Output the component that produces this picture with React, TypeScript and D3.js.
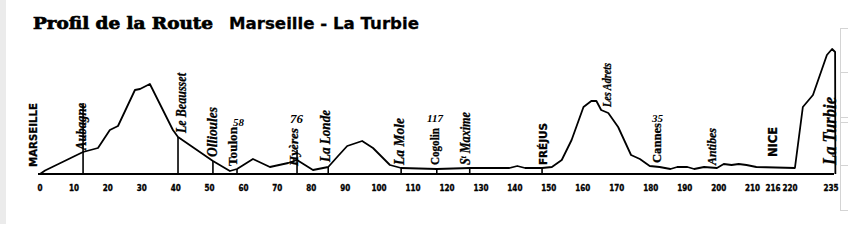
import React from 'react';
import * as d3 from 'd3';

// ---------- DATA ----------
const profileKm = [0, 1.5, 12.7, 17.1, 20.6, 23, 28, 29.5, 32.4, 39.2, 40.7, 51, 56, 58.1, 62.8, 67.8, 73.2, 75.8, 80.5, 85, 87.9, 90.6, 95, 98.2, 103.2, 106.5, 117, 126.7, 138.4, 140.7, 143, 148, 150.9, 153.8, 156.7, 160.2, 162.5, 164, 165.4, 167.5, 170.4, 174.2, 176.8, 179.7, 182.6, 185.8, 187.8, 190.8, 192.8, 195.7, 199.5, 201.5, 203.8, 205.9, 208.2, 211.1, 221.8, 224.7, 228.4, 233.5, 235.4, 236.5, 236.6];
const profileElev = [0, 14, 88, 104, 176, 192, 336, 340, 360, 176, 148, 52, 12, 20, 60, 28, 44, 56, 16, 28, 72, 112, 132, 104, 36, 24, 20, 24, 24, 32, 24, 24, 28, 56, 136, 268, 292, 292, 256, 244, 188, 76, 60, 32, 28, 20, 28, 28, 20, 28, 24, 40, 36, 40, 36, 28, 24, 268, 316, 476, 500, 488, 0];

const tickValues = [0, 10, 20, 30, 40, 50, 60, 70, 80, 90, 100, 110, 120, 130, 140, 150, 160, 170, 180, 190, 200, 210, 216, 220, 235];

const townNames = ['Aubagne', 'Le Beausset', 'Ollioules', 'Toulon', 'Hyères', 'La Londe', 'La Mole', 'Cogolin', 'St Maxime', 'FRÉJUS'];
const townKm = [12.7, 40.7, 51, 58.1, 75.8, 85, 106.5, 117, 126.7, 148];
const townMarkerTopElev = [284, null, null, null, 96, null, null, null, null, null];

const titleLeft = 'Profil de la Route';
const titleRight = 'Marseille - La Turbie';

// ---------- LAYOUT ----------
const W = 848, H = 249;
const HAND = "'Liberation Serif', 'DejaVu Serif', serif";
const SANS = "'DejaVu Sans', 'Liberation Sans', sans-serif";
const COND = "'DejaVu Sans Condensed', 'Liberation Sans Narrow', 'DejaVu Sans', sans-serif";

const labelLayout = [
  { text: 'MARSEILLE', cx: 33, yb: 167, len: 64, family: SANS, size: 10, weight: 700, style: 'normal' },
  { text: 'Aubagne', cx: 81, yb: 150, len: 47, family: HAND, size: 14, weight: 700, style: 'italic' },
  { text: 'Le Beausset', cx: 181, yb: 133, len: 60, family: HAND, size: 14, weight: 700, style: 'italic' },
  { text: 'Ollioules', cx: 212, yb: 157, len: 50, family: HAND, size: 14, weight: 700, style: 'italic' },
  { text: 'Toulon', cx: 232, yb: 166, len: 39, family: HAND, size: 13, weight: 700, style: 'normal' },
  { text: 'Hyères', cx: 293, yb: 166, len: 38, family: HAND, size: 13, weight: 700, style: 'italic' },
  { text: 'La Londe', cx: 325, yb: 162, len: 52, family: HAND, size: 14, weight: 700, style: 'italic' },
  { text: 'La Mole', cx: 399, yb: 165, len: 47, family: HAND, size: 14, weight: 700, style: 'italic' },
  { text: 'Cogolin', cx: 434, yb: 165, len: 37, family: HAND, size: 13, weight: 700, style: 'normal' },
  { text: 'St Maxime', cx: 465, yb: 165, len: 53, family: HAND, size: 14, weight: 700, style: 'italic' },
  { text: 'FRÉJUS', cx: 543, yb: 165, len: 42, family: SANS, size: 10, weight: 700, style: 'normal' },
  { text: 'Les Adrets', cx: 607, yb: 107, len: 44, family: HAND, size: 12, weight: 700, style: 'italic' },
  { text: 'Cannes', cx: 657, yb: 163, len: 40, family: HAND, size: 12, weight: 700, style: 'normal' },
  { text: 'Antibes', cx: 712, yb: 165, len: 37, family: HAND, size: 12, weight: 700, style: 'italic' },
  { text: 'NICE', cx: 773, yb: 157, len: 30, family: SANS, size: 12, weight: 700, style: 'normal' },
  { text: 'La Turbie', cx: 830, yb: 165, len: 68, family: HAND, size: 18, weight: 700, style: 'italic' },
];

const numberLayout = [
  { text: '58', x: 233, y: 126, size: 11 },
  { text: '76', x: 290, y: 123, size: 13 },
  { text: '117', x: 427, y: 122, size: 11 },
  { text: '35', x: 652, y: 122, size: 11 },
];

export default function App() {
  const x = d3.scaleLinear().domain([0, 110, 216, 220, 235]).range([40, 413, 773, 790, 831]);
  const y = d3.scaleLinear().domain([0, 500]).range([174, 49]);
  const elevAt = d3.scaleLinear().domain(profileKm).range(profileElev);

  const line = d3.line<number>()
    .x((_, i) => x(profileKm[i]))
    .y((d) => y(d))
    .curve(d3.curveLinear);
  const path = line(profileElev) || '';

  return (
    <div style={{ position: 'absolute', left: 0, top: 0 }}>
      <svg width={W} height={H} style={{ display: 'block', background: '#fff' }}>
        {/* scan borders */}
        <rect x={0} y={0} width={6} height={224} fill="#ebebeb" />
        <g stroke="#d4d4d4" strokeWidth={1}>
          <line x1={840.5} x2={840.5} y1={28} y2={210} />
          {[28, 72, 117, 122, 165, 210].map((yy) => (
            <line key={yy} x1={840} x2={848} y1={yy + 0.5} y2={yy + 0.5} />
          ))}
        </g>

        {/* titles */}
        <text x={33} y={29} fontFamily="'DejaVu Serif', serif" fontWeight={900} fontSize={16}
          stroke="#000" strokeWidth={0.7}
          textLength={180} lengthAdjust="spacingAndGlyphs" fill="#000">{titleLeft}</text>
        <text x={229} y={29} fontFamily={SANS} fontWeight={700} fontSize={16.5}
          stroke="#000" strokeWidth={0.3}
          textLength={190} lengthAdjust="spacingAndGlyphs" fill="#000">{titleRight}</text>

        {/* baseline */}
        <line x1={x(0) - 2} x2={x(235) + 3} y1={y(0)} y2={y(0)} stroke="#000" strokeWidth={2} />

        {/* town markers */}
        {townNames.map((n, i) => {
          const top = townMarkerTopElev[i] ?? elevAt(townKm[i]);
          return (
            <line key={n} x1={x(townKm[i])} x2={x(townKm[i])} y1={y(0)} y2={y(top)}
              stroke="#000" strokeWidth={1.6} />
          );
        })}

        {/* profile */}
        <path d={path} fill="none" stroke="#000" strokeWidth={1.8} strokeLinejoin="round" />

        {/* tick labels */}
        {tickValues.map((v) => (
          <text key={v} x={x(v)} y={191} textAnchor="middle" fontFamily={COND}
            fontWeight={700} fontSize={8} stroke="#000" strokeWidth={0.3} fill="#000">{String(v)}</text>
        ))}

        {/* rotated place names */}
        {labelLayout.map((l) => {
          const bx = l.cx + 0.35 * l.size;
          return (
            <text key={l.text} transform={`translate(${bx},${l.yb}) rotate(-90)`}
              fontFamily={l.family} fontSize={l.size} fontWeight={l.weight} fontStyle={l.style}
              textLength={l.len} lengthAdjust="spacingAndGlyphs" fill="#000"
              stroke="#000" strokeWidth={0.3}>
              {l.text === 'St Maxime'
                ? (<>S<tspan fontSize={8} dy={-4}>t</tspan><tspan dy={4}> Maxime</tspan></>)
                : l.text}
            </text>
          );
        })}

        {/* distance numbers */}
        {numberLayout.map((n) => (
          <text key={n.text} x={n.x} y={n.y} fontFamily={HAND} fontStyle="italic" fontWeight={700}
            fontSize={n.size} fill="#000">{n.text}</text>
        ))}
      </svg>
    </div>
  );
}
